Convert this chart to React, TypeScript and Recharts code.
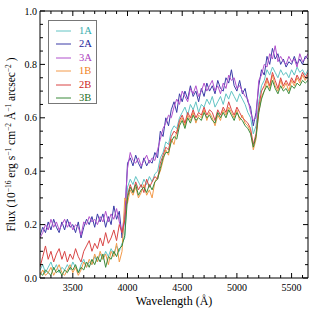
import { LineChart, Line, XAxis, YAxis } from "recharts";

// wavelength grid (Angstrom)
const wavelengths = [
  3200, 3225, 3250, 3275, 3300, 3325, 3350, 3375, 3400, 3425,
  3450, 3475, 3500, 3525, 3550, 3575, 3600, 3625, 3650, 3675,
  3700, 3725, 3750, 3775, 3800, 3825, 3850, 3875, 3900, 3925,
  3950, 3975,
  4000, 4025, 4050, 4075, 4100, 4125, 4150, 4175, 4200, 4225, 4250, 4275,
  4300, 4325, 4350, 4375, 4400, 4425, 4450, 4475, 4500, 4525, 4550, 4575,
  4600, 4625, 4650, 4675, 4700, 4725, 4750, 4775, 4800, 4825, 4850, 4875,
  4900, 4925, 4950, 4975, 5000, 5025, 5050, 5075, 5100, 5125, 5150, 5175,
  5200, 5225, 5250, 5275, 5300, 5325, 5350, 5375, 5400, 5425, 5450, 5475,
  5500, 5525, 5550, 5575, 5600, 5625, 5650,
];

const flux1A = [
  0.03, 0.05, 0.02, 0.04, 0.06, 0.03, 0.05, 0.02, 0.04, 0.03,
  0.05, 0.03, 0.06, 0.04, 0.02, 0.05, 0.07, 0.04, 0.06, 0.05,
  0.08, 0.06, 0.09, 0.07, 0.10, 0.08, 0.11, 0.09, 0.12, 0.10,
  0.13, 0.15,
  0.34, 0.37, 0.35, 0.38, 0.36, 0.34, 0.37, 0.35, 0.38, 0.36, 0.39, 0.40,
  0.45, 0.47, 0.51, 0.50, 0.55, 0.57, 0.56, 0.60, 0.62, 0.64, 0.61, 0.65,
  0.63, 0.66, 0.62, 0.65, 0.64, 0.67, 0.65, 0.68, 0.64, 0.66, 0.68, 0.65,
  0.69, 0.67, 0.70, 0.68, 0.66, 0.69, 0.67, 0.65, 0.62, 0.60, 0.54, 0.57,
  0.66, 0.72, 0.74, 0.78, 0.76, 0.79, 0.77, 0.75, 0.78, 0.76, 0.77, 0.75,
  0.78, 0.76, 0.79, 0.77, 0.78, 0.76, 0.78,
];

const flux2A = [
  0.16, 0.19, 0.17, 0.21, 0.18, 0.22, 0.19, 0.17, 0.21, 0.18,
  0.22, 0.19, 0.20, 0.17, 0.21, 0.15, 0.19, 0.22, 0.20, 0.23,
  0.19, 0.24, 0.21, 0.24, 0.19, 0.23, 0.20, 0.27, 0.22, 0.25,
  0.15, 0.22,
  0.43, 0.45, 0.42, 0.46, 0.43, 0.41, 0.45, 0.42, 0.44, 0.43, 0.47, 0.45,
  0.55, 0.53, 0.60, 0.57, 0.63, 0.66, 0.62, 0.69, 0.66, 0.70, 0.67, 0.72,
  0.68, 0.70, 0.66, 0.71, 0.68, 0.73, 0.70, 0.72, 0.69, 0.74, 0.71, 0.70,
  0.75, 0.73, 0.78, 0.72, 0.70, 0.74, 0.69, 0.71, 0.66, 0.64, 0.57, 0.62,
  0.72, 0.78, 0.76, 0.83, 0.80, 0.86, 0.82, 0.84, 0.80, 0.82, 0.79, 0.81,
  0.80, 0.83, 0.80, 0.82, 0.80, 0.83, 0.82,
];

const flux3A = [
  0.15, 0.17, 0.20, 0.18, 0.22, 0.19, 0.21, 0.18, 0.20, 0.22,
  0.19, 0.21, 0.18, 0.20, 0.19, 0.16, 0.21, 0.20, 0.23, 0.21,
  0.22, 0.20, 0.23, 0.21, 0.25, 0.21, 0.24, 0.22, 0.26, 0.21,
  0.17, 0.25,
  0.41, 0.47, 0.44, 0.43, 0.45, 0.42, 0.44, 0.46, 0.43, 0.45, 0.44, 0.48,
  0.52, 0.56, 0.58, 0.61, 0.60, 0.64, 0.67, 0.65, 0.70, 0.68, 0.66, 0.71,
  0.69, 0.72, 0.68, 0.70, 0.73, 0.70, 0.72, 0.74, 0.70, 0.72, 0.69, 0.73,
  0.71, 0.76, 0.74, 0.75, 0.71, 0.72, 0.70, 0.68, 0.67, 0.62, 0.59, 0.60,
  0.74, 0.76, 0.80, 0.79, 0.84, 0.82, 0.87, 0.81, 0.83, 0.81, 0.80, 0.83,
  0.81, 0.82, 0.79, 0.84, 0.81, 0.82, 0.84,
];

const flux1B = [
  0.01, 0.03, 0.01, 0.02, 0.04, 0.01, 0.03, 0.05, 0.02, 0.01,
  0.03, 0.05, 0.02, 0.04, 0.01, 0.03, 0.06, 0.04, 0.07, 0.05,
  0.09, 0.06, 0.10, 0.07, 0.09, 0.05, 0.10, 0.08, 0.13, 0.06,
  0.10, 0.30,
  0.28, 0.33, 0.31, 0.34, 0.30, 0.32, 0.35, 0.31, 0.33, 0.30, 0.36, 0.38,
  0.40, 0.44, 0.48, 0.46, 0.52, 0.50, 0.55, 0.58, 0.60, 0.57, 0.61, 0.59,
  0.62, 0.58, 0.61, 0.60, 0.63, 0.59, 0.62, 0.60, 0.57, 0.61, 0.59, 0.63,
  0.61, 0.64, 0.62, 0.60, 0.63, 0.59, 0.61, 0.58, 0.57, 0.55, 0.48, 0.52,
  0.62, 0.68, 0.70, 0.74, 0.71, 0.76, 0.72, 0.70, 0.74, 0.71, 0.73, 0.70,
  0.74, 0.72, 0.75, 0.73, 0.76, 0.74, 0.76,
];

const flux2B = [
  0.04, 0.08, 0.12, 0.07, 0.10, 0.06, 0.09, 0.11, 0.07, 0.10,
  0.06, 0.09, 0.07, 0.11, 0.08, 0.06, 0.10, 0.12, 0.14, 0.10,
  0.13, 0.11, 0.15, 0.12, 0.17, 0.13, 0.15, 0.18, 0.14, 0.20,
  0.17, 0.22,
  0.31, 0.35, 0.32, 0.36, 0.33, 0.35, 0.32, 0.37, 0.34, 0.36, 0.38, 0.37,
  0.43, 0.46, 0.49, 0.48, 0.53, 0.55, 0.54, 0.59, 0.61, 0.58, 0.62, 0.60,
  0.63, 0.60, 0.62, 0.61, 0.64, 0.61, 0.63, 0.62, 0.59, 0.63, 0.61, 0.64,
  0.62, 0.66, 0.63, 0.61, 0.64, 0.62, 0.60, 0.59, 0.58, 0.56, 0.50, 0.54,
  0.64, 0.70, 0.72, 0.75, 0.72, 0.77, 0.74, 0.71, 0.75, 0.72, 0.74, 0.72,
  0.75, 0.73, 0.76, 0.74, 0.77, 0.75, 0.77,
];

const flux3B = [
  0.02, 0.01, 0.03, 0.02, 0.01, 0.04, 0.02, 0.03, 0.01, 0.03,
  0.02, 0.04, 0.03, 0.05, 0.02, 0.04, 0.03, 0.06, 0.04, 0.07,
  0.05, 0.08, 0.06, 0.09, 0.04, 0.08, 0.07, 0.10, 0.08, 0.11,
  0.12, 0.16,
  0.30, 0.34, 0.32, 0.35, 0.31, 0.33, 0.34, 0.32, 0.35, 0.33, 0.36, 0.37,
  0.41, 0.45, 0.47, 0.47, 0.51, 0.53, 0.52, 0.57, 0.59, 0.56, 0.60, 0.58,
  0.61, 0.59, 0.60, 0.59, 0.62, 0.60, 0.61, 0.59, 0.58, 0.62, 0.60, 0.62,
  0.60, 0.63, 0.61, 0.59, 0.62, 0.60, 0.59, 0.57, 0.56, 0.54, 0.49, 0.53,
  0.62, 0.67, 0.70, 0.72, 0.70, 0.74, 0.71, 0.69, 0.72, 0.70, 0.71, 0.69,
  0.72, 0.71, 0.73, 0.72, 0.74, 0.73, 0.74,
];

const xTicks = [
  3300, 3400, 3500, 3600, 3700, 3800, 3900, 4000, 4100, 4200, 4300, 4400,
  4500, 4600, 4700, 4800, 4900, 5000, 5100, 5200, 5300, 5400, 5500, 5600,
];
const yTicks = [
  0, 0.05, 0.1, 0.15, 0.2, 0.25, 0.3, 0.35, 0.4, 0.45, 0.5,
  0.55, 0.6, 0.65, 0.7, 0.75, 0.8, 0.85, 0.9, 0.95, 1.0,
];

const series = [
  { key: "1A", values: flux1A, color: "#62c4c4", text: "#35adad" },
  { key: "2A", values: flux2A, color: "#3a3aa6", text: "#23239a" },
  { key: "3A", values: flux3A, color: "#b050cc", text: "#ad3fc0" },
  { key: "1B", values: flux1B, color: "#f39a4a", text: "#ef7f22" },
  { key: "2B", values: flux2B, color: "#d94545", text: "#cc2222" },
  { key: "3B", values: flux3B, color: "#3a8a3a", text: "#1f6e1f" },
];

const rows = wavelengths.map((w, i) => {
  const row: Record<string, number> = { w };
  series.forEach((s) => (row[s.key] = s.values[i]));
  return row;
});

const FONT = "'Times New Roman', 'Liberation Serif', Times, serif";

const isMajorX = (v: number) => v % 500 === 0;
const isMajorY = (v: number) => Math.abs(v * 5 - Math.round(v * 5)) < 1e-6;

function BottomTick({ x, y, payload }: any) {
  const major = isMajorX(payload.value);
  return (
    <g>
      <line x1={x} x2={x} y1={y} y2={y - (major ? 5 : 3)} stroke="#000" />
      {major && (
        <text x={x} y={y + 13} textAnchor="middle" fontSize={10} fontFamily={FONT} fill="#000">
          {payload.value}
        </text>
      )}
    </g>
  );
}

function TopTick({ x, y, payload }: any) {
  const major = isMajorX(payload.value);
  return <line x1={x} x2={x} y1={y} y2={y + (major ? 5 : 3)} stroke="#000" />;
}

function LeftTick({ x, y, payload }: any) {
  const major = isMajorY(payload.value);
  return (
    <g>
      <line x1={x} x2={x + (major ? 5 : 3)} y1={y} y2={y} stroke="#000" />
      {major && (
        <text x={x - 3} y={y + 3.5} textAnchor="end" fontSize={10} fontFamily={FONT} fill="#000">
          {payload.value.toFixed(1)}
        </text>
      )}
    </g>
  );
}

function RightTick({ x, y, payload }: any) {
  const major = isMajorY(payload.value);
  return <line x1={x} x2={x - (major ? 5 : 3)} y1={y} y2={y} stroke="#000" />;
}

function YTitle({ viewBox }: any) {
  const cy = viewBox.y + viewBox.height / 2;
  const cx = 15;
  const sup = (s: string) => (
    <>
      <tspan dy={-4} fontSize={7.5}>{s}</tspan>
      <tspan dy={4}> </tspan>
    </>
  );
  return (
    <text
      x={cx}
      y={cy}
      transform={`rotate(-90 ${cx} ${cy})`}
      textAnchor="middle"
      fontSize={11.5}
      fontFamily={FONT}
      fill="#000"
    >
      Flux (10{sup("−16")}erg s{sup("−1")}cm{sup("−2")}Å{sup("−1")}arcsec{sup("−2")})
    </text>
  );
}

export default function App() {
  return (
    <div style={{ position: "absolute", left: 0, top: 0, width: 315, height: 315, background: "#fff" }}>
      <LineChart width={315} height={315} data={rows} margin={{ top: 0, right: 0, left: 0, bottom: 0 }}>
        <XAxis
          dataKey="w"
          type="number"
          domain={[3200, 5650]}
          ticks={xTicks}
          interval={0}
          allowDataOverflow
          height={37}
          tickSize={0}
          tickMargin={0}
          tickLine={false}
          axisLine={{ stroke: "#000" }}
          tick={<BottomTick />}
          label={{
            value: "Wavelength (Å)",
            position: "insideBottom",
            offset: 10,
            style: { fontSize: 12, fontFamily: FONT, fill: "#000" },
          }}
        />
        <XAxis
          xAxisId="top"
          orientation="top"
          dataKey="w"
          type="number"
          domain={[3200, 5650]}
          ticks={xTicks}
          interval={0}
          allowDataOverflow
          height={11}
          tickSize={0}
          tickMargin={0}
          tickLine={false}
          axisLine={{ stroke: "#000" }}
          tick={<TopTick />}
        />
        <YAxis
          type="number"
          domain={[0, 1]}
          ticks={yTicks}
          interval={0}
          allowDataOverflow
          width={40}
          tickSize={0}
          tickMargin={0}
          tickLine={false}
          axisLine={{ stroke: "#000" }}
          tick={<LeftTick />}
          label={{ content: <YTitle /> }}
        />
        <YAxis
          yAxisId="right"
          orientation="right"
          type="number"
          domain={[0, 1]}
          ticks={yTicks}
          interval={0}
          allowDataOverflow
          width={7}
          tickSize={0}
          tickMargin={0}
          tickLine={false}
          axisLine={{ stroke: "#000" }}
          tick={<RightTick />}
        />
        {series.map((s) => (
          <Line
            key={s.key}
            dataKey={s.key}
            type="linear"
            stroke={s.color}
            strokeWidth={1}
            dot={false}
            isAnimationActive={false}
          />
        ))}
      </LineChart>
      <div
        style={{
          position: "absolute",
          left: 48,
          top: 20,
          width: 49,
          height: 84,
          border: "1px solid #777",
          background: "#fff",
          boxSizing: "border-box",
          padding: "3px 0 0 0",
        }}
      >
        {series.map((s) => (
          <div key={s.key} style={{ display: "flex", alignItems: "center", height: 13.5 }}>
            <svg width={30} height={10} style={{ display: "block" }}>
              <line x1={7} x2={22} y1={5} y2={5} stroke={s.color} strokeWidth={1} />
            </svg>
            <span style={{ fontFamily: FONT, fontSize: 10.5, color: s.text, lineHeight: "10px" }}>{s.key}</span>
          </div>
        ))}
      </div>
    </div>
  );
}
